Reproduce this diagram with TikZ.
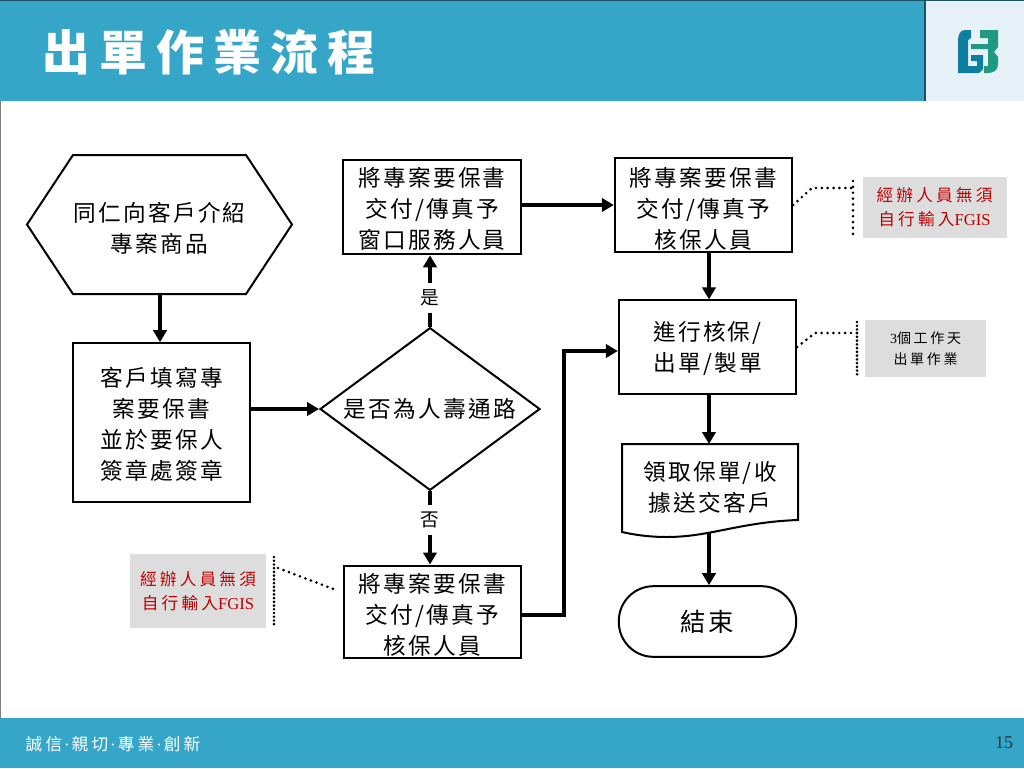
\documentclass[tikz,border=0pt]{standalone}
\usepackage{fontspec}
\setmainfont{Liberation Serif}
\newfontfamily\cjk[LetterSpace=10]{Noto Sans CJK TC}
\newfontfamily\cjkwide[LetterSpace=19]{Noto Sans CJK TC}
\usetikzlibrary{arrows.meta,shapes.geometric}
\definecolor{band}{HTML}{36A6C8}
\definecolor{pale}{HTML}{E6F2F8}
\definecolor{note}{HTML}{DDDDDD}
\definecolor{notered}{HTML}{C00000}
\definecolor{logoblue}{HTML}{0F7F9F}
\definecolor{logogreen}{HTML}{1F9A80}
\newcommand{\liftline}[1]{\rule{0pt}{#1}}
\newcommand{\mottodot}{{\rmfamily\hspace{1.5pt}·\hspace{1.5pt}}}
\begin{document}
\begin{tikzpicture}[x=0.75pt,y=-0.75pt]
\tikzset{
flow text/.style={font=\fontsize{17}{23.25}\selectfont\cjk,align=center,inner sep=0pt},
flow box/.style={flow text,draw,line width=1.5pt,minimum width=133pt},
note box/.style={fill=note,inner sep=0pt,align=center},
red note/.style={note box,text=notered,font=\fontsize{12.5}{18}\selectfont\cjkwide,minimum width=108pt,minimum height=46pt},
flow arrow/.style={line width=3pt,-{Triangle[length=9pt,width=10pt]}},
dot line/.style={line width=2.2pt,line cap=round,dash pattern=on 0pt off 4.4pt},
tight dots/.style={line width=2.2pt,line cap=round,dash pattern=on 0pt off 2.8pt},
tag/.style={fill=white,inner xsep=2pt,inner ysep=5pt,font=\fontsize{14}{15}\selectfont\cjk}
}
\useasboundingbox (0,0) rectangle (1024,768);
\fill[white] (0,0) rectangle (1024,768);
% header and footer
\fill[band] (0,0) rectangle (925,101);
\fill[pale] (925,0) rectangle (1024,101);
\draw[color=black!50!band,line width=1pt] (0,0.5) -- (1024,0.5) (925,0) -- (925,101);
\draw[black!50,line width=1pt] (0.5,101) -- (0.5,718);
\fill[band] (0,718) rectangle (1024,768);
\node (title) at (209,52) [text=white,font=\fontsize{36}{40}\selectfont\bfseries\cjkwide,inner sep=0pt]{出單作業流程};
\node (motto) at (113,744) [text=white,font=\fontsize{12.5}{15}\selectfont\cjkwide,inner sep=0pt]{誠信\mottodot 親切\mottodot 專業\mottodot 創新};
\node (pageno) at (1004,743) [font=\fontsize{13.5}{15}\selectfont,text=black!80,inner sep=0pt]{15};
% logo
\fill[logoblue] (971,30) -- (965,30) .. controls (960,30) and (958,35) .. (958,41) -- (958,73) -- (979,73) -- (983,69) -- (983,55) -- (971,55) -- (971,61) -- (977,61) -- (977,66) -- (968,66) -- (968,40) -- (971,38) -- cycle;
\fill[logogreen] (980,30) -- (998,30) -- (998,47) -- (994,52) -- (998,57) -- (998,64) .. controls (998,70) and (994,73) .. (988,73) -- (984,73) -- (984,66) -- (988,66) -- (988,49) -- (971,49) -- (971,44) -- (988,44) -- (988,38) -- (980,38) -- cycle;
% flow nodes
\node (hexa) at (159.5,228) [flow text,minimum width=199pt]{同仁向客戶介紹\\專案商品};
\coordinate (hexw) at (27,224.5);
\coordinate (hexe) at (292,224.5);
\coordinate (hexs) at (160,294);
\draw[line width=1.5pt] (hexw) -- ++(46,-69.5) -- ++(173,0) -- (hexe) -- ++(-46,69.5) -- ++(-173,0) -- cycle;
\node (fill) at (161.5,422.5) [flow box,minimum height=119pt]{\liftline{16.5pt}客戶填寫專\\案要保書\\並於要保人\\簽章處簽章};
\node (route) at (430,409) [diamond,draw,line width=1.5pt,flow text,aspect=1.36,minimum width=165pt,minimum height=122pt]{是否為人壽通路};
\node (window) at (432,207) [flow box,minimum height=71pt]{\liftline{16.5pt}將專案要保書\\交付/傳真予\\窗口服務人員};
\node (under) at (703.5,205) [flow box,minimum height=70pt]{\liftline{19.5pt}將專案要保書\\交付/傳真予\\核保人員};
\node (issue) at (707.5,347) [flow box,minimum height=70pt]{\liftline{17.2pt}進行核保/\\出單/製單};
\node (direct) at (432.5,611.5) [flow box,minimum height=69pt]{\liftline{19.5pt}將專案要保書\\交付/傳真予\\核保人員};
\node (doc) at (710,487) [flow text]{領取保單/收\\據送交客戶};
\draw[line width=1.5pt] (622,444) -- (798,444) -- (798,520) .. controls (740,522) and (710,537) .. (667,537) .. controls (650,537) and (635,535) .. (622,532) -- cycle;
\coordinate (docout) at (709,532);
\coordinate (docin) at (709,444);
\node (end) at (707.5,621.5) [flow text,draw,line width=1.5pt,rounded corners=26pt,minimum width=133pt,minimum height=53pt,font=\fontsize{19}{20}\selectfont\cjk]{結束};
% notes
\node (note1) at (934.5,207.5) [red note]{經辦人員無須\\自行輸入{\rmfamily FGIS}};
\node (note2) at (925.5,348.5) [note box,minimum width=91pt,minimum height=43pt,font=\fontsize{10.5}{16}\selectfont\cjkwide]{{\rmfamily 3}個工作天\\出單作業};
\node (note3) at (198,591) [red note,minimum width=102pt,minimum height=55pt]{經辦人員無須\\自行輸入{\rmfamily FGIS}};
% arrows
\coordinate (bendlow) at (564,615);
\coordinate (bendup) at (564,351);
\draw[flow arrow] (hexs) -- (hexs |- fill.north);
\draw[flow arrow] (route.west -| fill.east) -- (route.west);
\draw[flow arrow] (route.north) -- node[tag,pos=0.4]{是} (route.north |- window.south);
\draw[flow arrow] (route.south) -- node[tag,pos=0.39]{否} (route.south |- direct.north);
\draw[flow arrow] (under.west -| window.east) -- (under.west);
\draw[flow arrow] (under.south -| docin) -- (issue.north -| docin);
\draw[flow arrow] (issue.south -| docin) -- (docin);
\draw[flow arrow] (docout) -- (end.north -| docout);
\draw[flow arrow] (bendlow -| direct.east) -- (bendlow) -- (bendup) -- (bendup -| issue.west);
% dotted call-outs
\coordinate (tick1a) at (853,181);
\coordinate (tick1b) at (853,236);
\coordinate (tick2a) at (857,322);
\coordinate (tick2b) at (857,376);
\coordinate (tick3a) at (274,557);
\coordinate (tick3b) at (274,626);
\coordinate (note3in) at (278,568);
\coordinate (direct3) at (336,590);
\draw[dot line] (tick1a) -- (tick1b);
\draw[tight dots] (tick2a) -- (tick2b);
\draw[tight dots] (tick3a) -- (tick3b);
\draw[dot line] (under.east) -- (812,188) -- (tick1a |- 0,188);
\draw[dot line] (issue.east) -- (815,333) -- (tick2a |- 0,333);
\draw[dot line] (note3in) -- (direct3);
\end{tikzpicture}
\end{document}
